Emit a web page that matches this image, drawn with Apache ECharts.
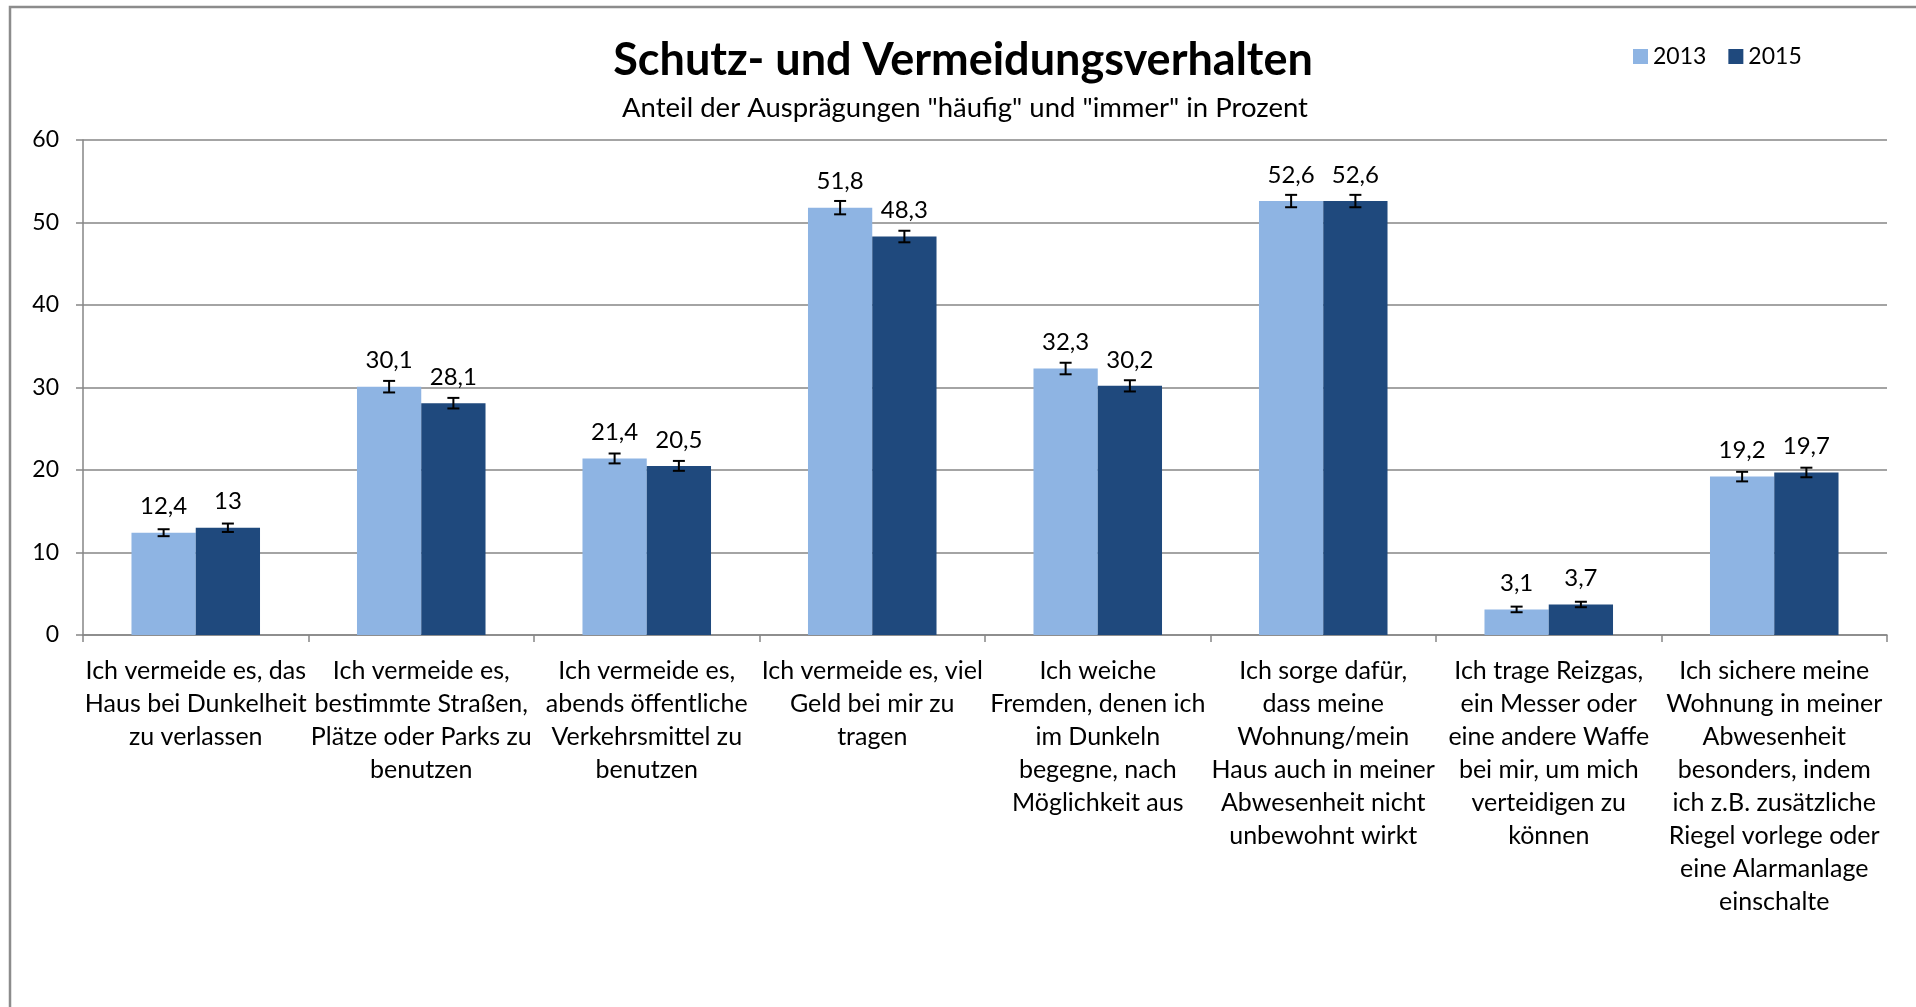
<!DOCTYPE html>
<html>
<head>
<meta charset="utf-8">
<script src="https://cdn.jsdelivr.net/npm/echarts@6/dist/echarts.min.js"></script>
<style>
  html, body { margin: 0; padding: 0; background: #fff; }
  #chart { width: 1916px; height: 1007px; }
</style>
</head>
<body>
<div id="chart"></div>
<script>
// Kategorien (Achsenbeschriftung, Zeilenumbrüche wie im Original)
const categories = [
  'Ich vermeide es, das\nHaus bei Dunkelheit\nzu verlassen',
  'Ich vermeide es,\nbestimmte Straßen,\nPlätze oder Parks zu\nbenutzen',
  'Ich vermeide es,\nabends öffentliche\nVerkehrsmittel zu\nbenutzen',
  'Ich vermeide es, viel\nGeld bei mir zu\ntragen',
  'Ich weiche\nFremden, denen ich\nim Dunkeln\nbegegne, nach\nMöglichkeit aus',
  'Ich sorge dafür,\ndass meine\nWohnung/mein\nHaus auch in meiner\nAbwesenheit nicht\nunbewohnt wirkt',
  'Ich trage Reizgas,\nein Messer oder\neine andere Waffe\nbei mir, um mich\nverteidigen zu\nkönnen',
  'Ich sichere meine\nWohnung in meiner\nAbwesenheit\nbesonders, indem\nich z.B. zusätzliche\nRiegel vorlege oder\neine Alarmanlage\neinschalte'
]
const seriesNames = ['2013', '2015']
const values2013 = [12.4, 30.1, 21.4, 51.8, 32.3, 52.6, 3.1, 19.2]
const values2015 = [13, 28.1, 20.5, 48.3, 30.2, 52.6, 3.7, 19.7]
// Fehlerbalken (halbe Spannweite, aus dem Bild geschätzt)
const err2013 = [0.42, 0.7, 0.6, 0.81, 0.7, 0.75, 0.34, 0.58]
const err2015 = [0.51, 0.64, 0.6, 0.7, 0.68, 0.75, 0.33, 0.58]
const yTicks = [0, 10, 20, 30, 40, 50, 60]

const FONT = 'Lato'
const C2013 = '#8EB4E3'
const C2015 = '#1F497D'
const GAP = 0.43

const fmt = v => String(v).replace('.', ',')

const chart = echarts.init(document.getElementById('chart'))

// Fehlerbalken als custom series
const errorSeries = (vals, errs, idx) => ({
  type: 'custom',
  z: 5,
  silent: true,
  data: vals.map((v, i) => [i, v, errs[i]]),
  encode: { x: 0, y: 1 },
  renderItem: (params, api) => {
    const i = api.value(0)
    const v = api.value(1)
    const e = api.value(2)
    const band = api.size([1, 0])[0]
    const bw = band * (1 - GAP) / 2
    const off = idx === 0 ? -bw / 2 : bw / 2
    const hi = api.coord([i, v + e])
    const lo = api.coord([i, v - e])
    const x = hi[0] + off
    const cap = 6
    const st = { stroke: '#000', lineWidth: 2 }
    return {
      type: 'group',
      children: [
        { type: 'line', shape: { x1: x, y1: hi[1], x2: x, y2: lo[1] }, style: st },
        { type: 'line', shape: { x1: x - cap, y1: hi[1], x2: x + cap, y2: hi[1] }, style: st },
        { type: 'line', shape: { x1: x - cap, y1: lo[1], x2: x + cap, y2: lo[1] }, style: st }
      ]
    }
  }
})

const barLabel = {
  show: true,
  position: 'top',
  distance: 14,
  color: '#000',
  fontFamily: FONT,
  fontSize: 24,
  formatter: p => fmt(p.value)
}

chart.setOption({
  animation: false,
  textStyle: { fontFamily: FONT },
  graphic: [
    {
      type: 'rect',
      shape: { x: 10, y: 7, width: 2000, height: 1100 },
      style: { fill: 'none', stroke: '#8c8c8c', lineWidth: 2.5 },
      z: -10
    }
  ],
  title: [
    {
      text: 'Schutz- und Vermeidungsverhalten',
      left: 958,
      top: 33,
      textAlign: 'center',
      textStyle: { fontFamily: FONT, fontSize: 45, fontWeight: 'bold', color: '#000' }
    },
    {
      text: 'Anteil der Ausprägungen "häufig" und "immer" in Prozent',
      left: 960,
      top: 89,
      textAlign: 'center',
      textStyle: { fontFamily: FONT, fontSize: 27.5, fontWeight: 'normal', color: '#000' }
    }
  ],
  legend: {
    data: seriesNames,
    left: 1628,
    top: 40,
    icon: 'rect',
    itemWidth: 15,
    itemHeight: 15,
    itemGap: 22,
    textStyle: { fontFamily: FONT, fontSize: 23, color: '#000' }
  },
  grid: { left: 83, right: 29, top: 140, bottom: 372 },
  xAxis: {
    type: 'category',
    data: categories,
    axisLine: { lineStyle: { color: '#868686', width: 1.5 } },
    axisTick: { show: true, length: 7, alignWithLabel: false, lineStyle: { color: '#868686', width: 1.5 } },
    axisLabel: {
      interval: 0,
      margin: 19,
      color: '#000',
      fontFamily: FONT,
      fontSize: 25,
      lineHeight: 33,
      align: 'center'
    }
  },
  yAxis: {
    type: 'value',
    min: 0,
    max: 60,
    interval: 10,
    axisLine: { show: true, lineStyle: { color: '#868686', width: 1.5 } },
    axisTick: { show: true, length: 7, lineStyle: { color: '#868686', width: 1.5 } },
    splitLine: { lineStyle: { color: '#868686', width: 1.5 } },
    axisLabel: {
      margin: 24,
      color: '#000',
      fontFamily: FONT,
      fontSize: 23,
      formatter: v => yTicks.includes(v) ? String(v) : ''
    }
  },
  series: [
    {
      name: seriesNames[0],
      type: 'bar',
      data: values2013,
      barGap: '0%',
      barCategoryGap: (GAP * 100) + '%',
      itemStyle: { color: C2013 },
      label: barLabel
    },
    {
      name: seriesNames[1],
      type: 'bar',
      data: values2015,
      barGap: '0%',
      barCategoryGap: (GAP * 100) + '%',
      itemStyle: { color: C2015 },
      label: barLabel
    },
    errorSeries(values2013, err2013, 0),
    errorSeries(values2015, err2015, 1)
  ]
})
</script>
</body>
</html>
